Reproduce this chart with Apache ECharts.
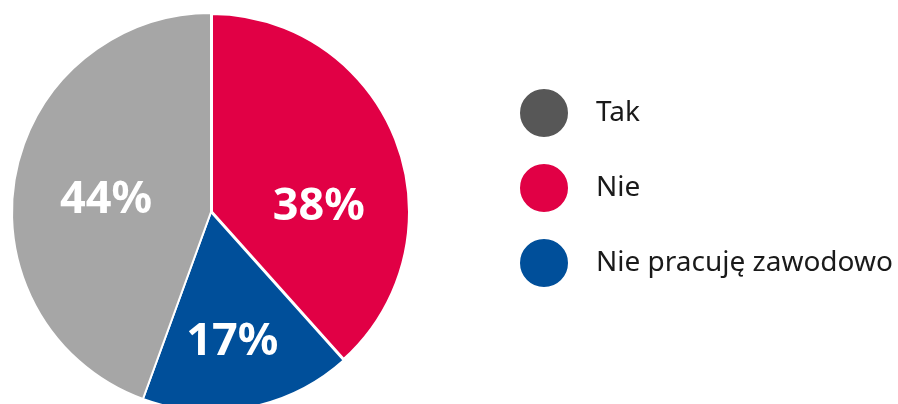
<!doctype html>
<html>
<head>
    <meta charset="UTF-8">
    <title>Pie</title>
    <script src="https://cdn.jsdelivr.net/npm/echarts@6/dist/echarts.min.js"></script>
    <style>
        html, body { margin: 0; padding: 0; background: #fff; }
    </style>
</head>
<body>
<div id="main" style="width: 898px;height:404px;"></div>
<script>
    // kolejność wycinków zgodnie z ruchem wskazówek zegara od góry
    var names = ['Nie', 'Nie pracuję zawodowo', 'Tak'];
    var values = [38, 17, 44];
    var legendOrder = ['Tak', 'Nie', 'Nie pracuję zawodowo'];

    var sliceColors = {'Nie': '#e10045', 'Nie pracuję zawodowo': '#004f9a', 'Tak': '#a6a6a6'};
    var legendColors = {'Nie': '#e10045', 'Nie pracuję zawodowo': '#004f9a', 'Tak': '#575757'};
    // przesunięcia etykiet względem domyślnej pozycji
    var labelShift = [[12, 32], [2, 30], [-4, 6]];

    var seriesData = names.map((n, i) => ({
        name: n,
        value: values[i],
        itemStyle: { color: sliceColors[n], borderWidth: n === 'Nie' ? 4 : 2 }
    }));

    var myChart = echarts.init(document.getElementById('main'));
    var option = {
        animation: false,
        legend: {
            orient: 'vertical',
            left: 518,
            top: 87,
            padding: 0,
            itemWidth: 50,
            itemHeight: 50,
            itemGap: 23,
            icon: 'circle',
            data: legendOrder.map(n => ({ name: n, itemStyle: { color: legendColors[n] } })),
            textStyle: {
                fontFamily: 'Noto Sans',
                fontSize: 28,
                color: '#1a1a1a',
                padding: [0, 0, 0, 22]
            }
        },
        series: [{
            type: 'pie',
            center: [211, 212],
            radius: 199,
            startAngle: 90,
            clockwise: true,
            avoidLabelOverlap: false,
            itemStyle: { borderColor: '#fff', borderWidth: 2 },
            label: {
                show: true,
                position: 'inside',
                formatter: p => p.value + '%',
                color: '#fff',
                fontFamily: 'Noto Sans',
                fontWeight: 'bold',
                fontSize: 45
            },
            labelLayout: p => ({ dx: labelShift[p.dataIndex][0], dy: labelShift[p.dataIndex][1] }),
            emphasis: { disabled: true },
            data: seriesData
        }]
    };
    myChart.setOption(option);
</script>
</body>
</html>
